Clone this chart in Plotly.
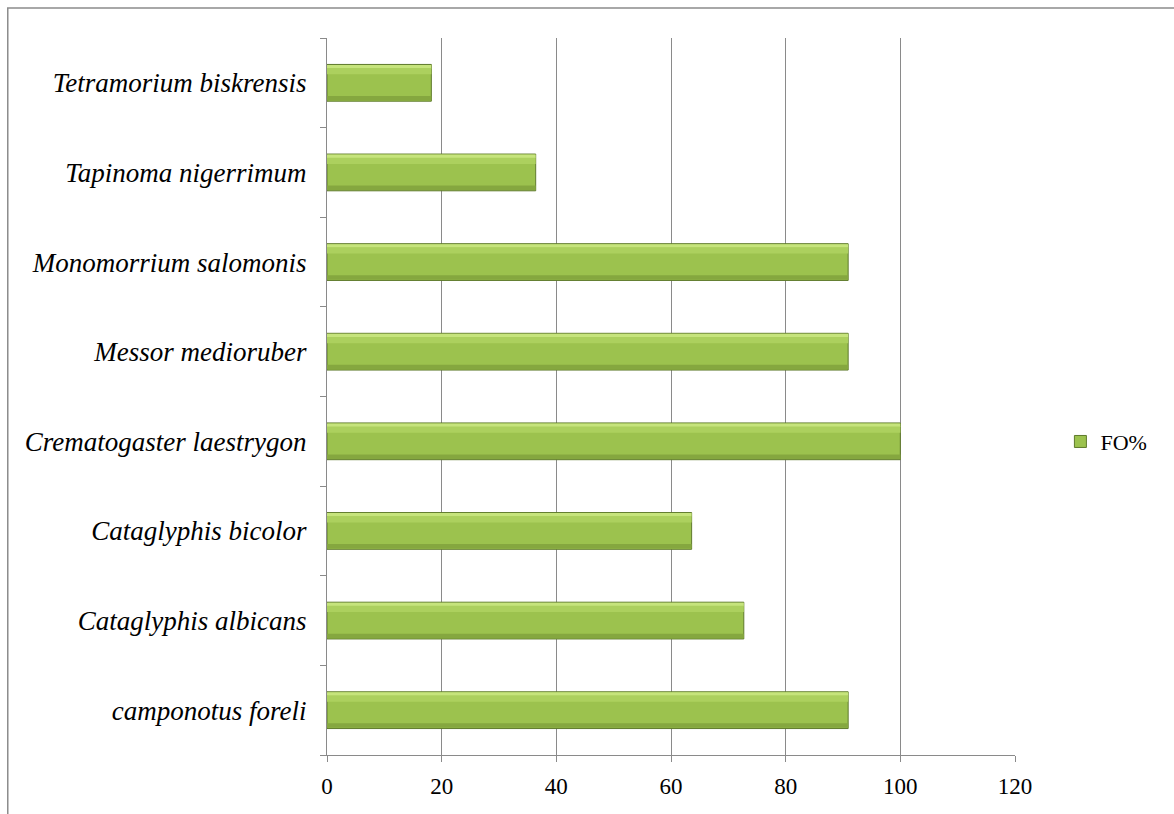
import plotly.graph_objects as go

# Species (bottom to top) and their frequency of occurrence
species = [
    "camponotus foreli",
    "Cataglyphis albicans",
    "Cataglyphis bicolor",
    "Crematogaster laestrygon",
    "Messor medioruber",
    "Monomorrium salomonis",
    "Tapinoma nigerrimum",
    "Tetramorium biskrensis",
]
fo_pct = [90.9, 72.7, 63.6, 100.0, 90.9, 90.9, 36.4, 18.2]
x_ticks = [0, 20, 40, 60, 80, 100, 120]

labels = [f"<i>{s}</i>" for s in species]
FONT = "Liberation Serif"
BAR_W = 0.41

fig = go.Figure()

# main bar body
fig.add_trace(go.Bar(
    x=fo_pct, y=labels, orientation="h", name="FO%",
    width=BAR_W,
    marker=dict(color="#9cc24e", line=dict(color="#5f7a2c", width=1)),
))
# light top edge
fig.add_trace(go.Bar(
    x=fo_pct, y=labels, orientation="h", showlegend=False,
    width=0.04, offset=BAR_W / 2 - 0.045, hoverinfo="skip",
    marker=dict(color="#c6e47c", line=dict(width=0)),
))
# soft upper sheen
fig.add_trace(go.Bar(
    x=fo_pct, y=labels, orientation="h", showlegend=False,
    width=0.07, offset=0.095, hoverinfo="skip",
    marker=dict(color="#acd05e", line=dict(width=0)),
))
# darker lower edge
fig.add_trace(go.Bar(
    x=fo_pct, y=labels, orientation="h", showlegend=False,
    width=0.05, offset=-BAR_W / 2 + 0.008, hoverinfo="skip",
    marker=dict(color="#85a73f", line=dict(width=0)),
))

fig.update_layout(
    width=1174, height=814,
    margin=dict(l=327, r=159, t=38, b=59, autoexpand=False),
    paper_bgcolor="white", plot_bgcolor="white",
    barmode="overlay",
    font=dict(family=FONT, size=26, color="black"),
    legend=dict(
        x=1.066, y=0.437, xanchor="left", yanchor="middle",
        font=dict(family=FONT, size=22, color="black"),
        itemwidth=30, bgcolor="rgba(0,0,0,0)",
    ),
    shapes=[dict(
        type="rect", xref="paper", yref="paper",
        x0=-0.464, x1=1.3, y0=-0.2, y1=1.042,
        line=dict(color="#8c8c8c", width=1.5), fillcolor="rgba(0,0,0,0)",
        layer="below",
    )],
)

fig.update_xaxes(
    range=[0, 120], tickvals=x_ticks,
    showgrid=True, gridcolor="#8a8a8a", gridwidth=1,
    showline=True, linecolor="#8a8a8a", linewidth=1,
    ticks="outside", ticklen=6, tickcolor="#8a8a8a",
    ticklabelstandoff=4,
    tickfont=dict(family=FONT, size=23, color="black"),
    zeroline=False,
)
fig.update_yaxes(
    categoryorder="array", categoryarray=labels,
    showline=True, linecolor="#8a8a8a", linewidth=1,
    ticks="outside", ticklen=6, tickcolor="#8a8a8a",
    tickson="boundaries", ticklabelstandoff=14,
    tickfont=dict(family=FONT, size=27, color="black"),
    showgrid=False,
)

fig.write_html("out.html")
